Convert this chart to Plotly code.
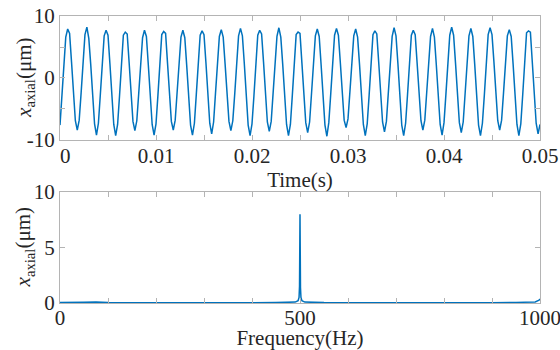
import plotly.graph_objects as go

# ---- data ----
sample_interval = 0.0002  # s
displacement = [
    -7.6, -3.0, 2.1, 6.6, 7.9, 7.2, 2.6, -2.5, -6.9, -8.4,
    -6.8, -2.4, 2.6, 7.0, 8.2, 6.4, 2.2, -2.9, -7.4, -9.2,
    -7.3, -2.7, 2.4, 6.8, 7.7, 6.9, 2.3, -2.8, -7.5, -9.3,
    -7.5, -2.9, 2.0, 6.9, 7.4, 7.1, 2.5, -2.6, -7.0, -8.5,
    -6.9, -2.5, 2.5, 6.5, 7.7, 6.7, 2.1, -3.0, -7.5, -9.2,
    -7.4, -2.8, 2.2, 7.0, 7.5, 7.2, 2.4, -2.7, -7.0, -8.4,
    -6.8, -2.3, 2.7, 6.6, 7.7, 6.5, 2.0, -3.1, -7.6, -9.2,
    -7.3, -2.6, 2.3, 6.9, 7.6, 7.0, 2.5, -2.6, -7.3, -9.0,
    -7.1, -2.4, 2.5, 6.7, 7.8, 6.6, 2.2, -2.8, -7.0, -8.5,
    -6.9, -2.6, 2.4, 6.8, 8.0, 6.8, 2.3, -3.0, -7.6, -9.3,
    -7.4, -2.9, 2.1, 6.9, 7.7, 7.1, 2.6, -2.5, -7.1, -8.6,
    -7.0, -2.4, 2.6, 6.7, 8.1, 6.6, 2.2, -2.9, -7.5, -9.3,
    -7.5, -2.8, 2.2, 7.0, 7.4, 7.2, 2.4, -2.7, -7.2, -8.8,
    -7.1, -2.5, 2.5, 6.8, 7.9, 6.7, 2.1, -3.0, -7.6, -9.4,
    -7.2, -2.6, 2.3, 6.9, 8.0, 6.9, 2.5, -2.6, -6.8, -8.0,
    -6.6, -2.2, 2.7, 6.8, 7.9, 6.6, 2.2, -3.0, -7.5, -9.3,
    -7.4, -2.8, 2.1, 7.0, 7.6, 7.1, 2.5, -2.7, -7.1, -8.7,
    -7.0, -2.4, 2.6, 6.7, 8.1, 6.8, 2.3, -2.9, -7.6, -9.3,
    -7.3, -2.7, 2.3, 6.9, 7.7, 7.0, 2.4, -2.6, -6.9, -8.4,
    -6.8, -2.3, 2.6, 6.7, 8.0, 6.6, 2.1, -3.0, -7.5, -9.2,
    -7.2, -2.6, 2.4, 6.9, 8.2, 6.9, 2.4, -2.8, -7.2, -8.8,
    -7.1, -2.5, 2.5, 6.8, 8.0, 6.7, 2.2, -2.9, -7.6, -9.3,
    -7.3, -2.8, 2.2, 7.0, 8.1, 7.0, 2.6, -2.6, -6.9, -8.4,
    -6.8, -2.4, 2.7, 6.8, 7.8, 6.7, 2.2, -3.0, -7.5, -9.3,
    -7.4, -2.7, 2.3, 7.3, 7.6, 7.4, 2.5, -2.8, -7.3, -9.0,
    -7.5,
]
time_s = [i * sample_interval for i in range(len(displacement))]

spec_freq = [0, 25, 50, 75, 100, 150, 200, 250, 300, 350, 400, 450, 490, 496,
             498, 499, 500, 501, 502, 504, 510, 550, 600, 650, 700, 750, 800,
             850, 900, 950, 990, 998, 1000]
spec_amp = [0.05, 0.03, 0.06, 0.08, 0.04, 0.03, 0.02, 0.02, 0.02, 0.03, 0.03,
            0.04, 0.08, 0.2, 0.5, 1.5, 8.0, 1.4, 0.5, 0.2, 0.08, 0.04, 0.03,
            0.02, 0.02, 0.02, 0.02, 0.03, 0.03, 0.05, 0.1, 0.25, 0.35]

time_labels = [0, 0.01, 0.02, 0.03, 0.04, 0.05]
time_label_text = ["\u00a0\u00a00", "0.01", "0.02", "0.03", "0.04", "0.05"]
top_y_labels = [-10, 0, 10]
freq_labels = [0, 500, 1000]
freq_label_text = ["0", "500", "1000"]
bot_y_labels = [0, 5, 10]

LINE = "#0072BD"
AX = "#b4b4b4"
TXT = "#262626"
FONT = "Liberation Serif"
FS = 21

fig = go.Figure()
fig.add_trace(go.Scatter(x=time_s, y=displacement, mode="lines",
                         line=dict(color=LINE, width=1.5), xaxis="x", yaxis="y"))
fig.add_trace(go.Scatter(x=spec_freq, y=spec_amp, mode="lines",
                         line=dict(color=LINE, width=1.5), xaxis="x2", yaxis="y2"))


def axis_style(minor_step, standoff=0):
    return dict(showline=True, linecolor=AX, linewidth=1, mirror="allticks",
                ticks="inside", ticklen=5, tickcolor=AX, showgrid=False,
                zeroline=False, tickfont=dict(family=FONT, size=FS, color=TXT),
                automargin=False, tickmode="array",
                ticklabeloverflow="allow", ticklabelstandoff=standoff,
                minor=dict(dtick=minor_step, ticks="inside", ticklen=5,
                           tickcolor=AX, showgrid=False))


ytitle = "<i>x</i><sub>axial</sub>(μm)"
title_font = dict(family=FONT, size=FS, color=TXT)

fig.update_layout(
    width=560, height=350,
    margin=dict(l=60, r=20, t=16, b=47),
    paper_bgcolor="white", plot_bgcolor="white",
    showlegend=False,
    font=dict(family=FONT, size=FS, color=TXT),
    xaxis=dict(domain=[0, 1], range=[0, 0.05], anchor="y",
               tickvals=time_labels, ticktext=time_label_text,
               title=dict(text="Time(s)", standoff=0, font=title_font),
               **axis_style(0.005, -3)),
    yaxis=dict(domain=[0.568, 1], range=[-10, 10], anchor="x",
               tickvals=top_y_labels, ticktext=[str(v) for v in top_y_labels],
               **axis_style(5)),
    xaxis2=dict(domain=[0, 1], range=[0, 1000], anchor="y2",
                tickvals=freq_labels, ticktext=freq_label_text,
                title=dict(text="Frequency(Hz)", standoff=0, font=title_font),
                **axis_style(100, -4)),
    yaxis2=dict(domain=[0, 0.387], range=[0, 10], anchor="x2",
                tickvals=bot_y_labels, ticktext=[str(v) for v in bot_y_labels],
                **axis_style(5)),
    annotations=[
        dict(text=ytitle, textangle=-90, xref="paper", yref="paper",
             x=-0.073, y=(0.568 + 1) / 2, xanchor="center", yanchor="middle",
             showarrow=False, font=title_font),
        dict(text=ytitle, textangle=-90, xref="paper", yref="paper",
             x=-0.073, y=0.387 / 2, xanchor="center", yanchor="middle",
             showarrow=False, font=title_font),
    ],
)

fig.write_html("out.html", config={"displayModeBar": False},
               post_script="document.body.style.margin='0';")
